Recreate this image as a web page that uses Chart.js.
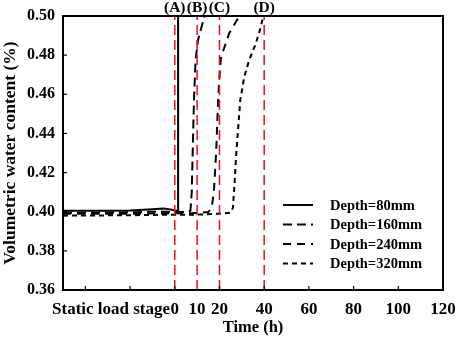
<!DOCTYPE html>
<html>
<head>
<meta charset="utf-8">
<script src="https://cdn.jsdelivr.net/npm/chart.js@4/dist/chart.umd.min.js"></script>
<style>
html,body{margin:0;padding:0;background:#fff;}
#wrap{width:457px;height:340px;position:relative;}
</style>
</head>
<body>
<div id="wrap"><canvas id="c"></canvas></div>
<script>
// ---- data ----
const seriesNames = ['Depth=80mm', 'Depth=160mm', 'Depth=240mm', 'Depth=320mm'];

const d80x  = [-50, -40, -30, -20, -10, -5, -2, 0, 1.5, 1.5];
const d80y  = [0.4005, 0.4005, 0.4005, 0.4006, 0.4012, 0.4016, 0.4012, 0.4006, 0.4005, 0.50];

const d160x = [-50, -30, -10, 0, 5, 7, 7.6, 8, 8.6, 9.3, 10.4, 13.3];
const d160y = [0.3995, 0.3995, 0.4, 0.4, 0.3998, 0.4005, 0.41, 0.43, 0.457, 0.4775, 0.4877, 0.50];

const d240x = [-50, -20, 0, 10, 15, 16.5, 17.5, 18.5, 19.4, 20, 20.7, 24.4, 28.9];
const d240y = [0.399, 0.399, 0.3992, 0.3993, 0.3998, 0.402, 0.41, 0.43, 0.457, 0.469, 0.479, 0.4913, 0.50];

const d320x = [-50, -20, 0, 10, 20, 25, 26, 26.8, 27.4, 29.3, 31.1, 33.3, 36.3, 38.5, 39.6];
const d320y = [0.398, 0.3982, 0.3985, 0.3985, 0.399, 0.3995, 0.402, 0.415, 0.428, 0.457, 0.469, 0.4775, 0.486, 0.4945, 0.50];

const eventTimes  = [0, 10, 20, 40];
const eventLabels = ['(A)', '(B)', '(C)', '(D)'];

const xLabelValues = [-28.5, 0, 10, 20, 40, 60, 80, 100, 120];
const xLabelTexts  = ['Static load stage', '0', '10', '20', '40', '60', '80', '100', '120'];
const xTickMarks   = [-40, -20, 0, 20, 40, 60, 80, 100];
const yTickValues  = [0.36, 0.38, 0.40, 0.42, 0.44, 0.46, 0.48, 0.50];

// ---- build ----
const FONT = '"Liberation Serif", "Times New Roman", serif';
const dashes = [[], [9, 5], [8, 6], [5, 4]];
const xs = [d80x, d160x, d240x, d320x];
const ys = [d80y, d160y, d240y, d320y];

const datasets = [];
eventTimes.forEach(t => {
  datasets.push({
    data: [{x: t, y: 0.36}, {x: t, y: 0.50}],
    borderColor: '#e8141c', borderWidth: 1.5, borderDash: [10, 5],
    pointRadius: 0, fill: false, tension: 0
  });
});
seriesNames.forEach((n, i) => {
  datasets.push({
    label: n,
    data: xs[i].map((x, k) => ({x: x, y: ys[i][k]})),
    borderColor: '#000', borderWidth: 2, borderDash: dashes[i],
    pointRadius: 0, fill: false, tension: 0
  });
});

const decor = {
  id: 'decor',
  afterDraw(chart) {
    const ctx = chart.ctx, a = chart.chartArea;
    const xs_ = chart.scales.x, ys_ = chart.scales.y;
    ctx.save();
    // frame
    ctx.strokeStyle = '#000'; ctx.lineWidth = 2; ctx.setLineDash([]);
    ctx.strokeRect(a.left, a.top, a.right - a.left, a.bottom - a.top);
    // inward ticks
    ctx.lineWidth = 1.2;
    xTickMarks.forEach(v => {
      const px = xs_.getPixelForValue(v);
      ctx.beginPath(); ctx.moveTo(px, a.bottom); ctx.lineTo(px, a.bottom - 4); ctx.stroke();
    });
    yTickValues.forEach(v => {
      const py = ys_.getPixelForValue(v);
      ctx.beginPath(); ctx.moveTo(a.left, py); ctx.lineTo(a.left + 4, py); ctx.stroke();
    });
    // event labels
    ctx.fillStyle = '#000';
    ctx.font = 'bold 15.5px ' + FONT;
    ctx.textAlign = 'center'; ctx.textBaseline = 'middle';
    eventTimes.forEach((t, i) => {
      ctx.fillText(eventLabels[i], xs_.getPixelForValue(t), 8);
    });
    // legend
    const rows = [205, 224.5, 244, 263.5];
    ctx.textAlign = 'left';
    ctx.font = 'bold 14.5px ' + FONT;
    seriesNames.forEach((n, i) => {
      ctx.beginPath();
      ctx.setLineDash(dashes[i]);
      ctx.lineWidth = 2;
      ctx.moveTo(283, rows[i]); ctx.lineTo(313, rows[i]); ctx.stroke();
      ctx.setLineDash([]);
      ctx.fillText(n, 330, rows[i] + 1);
    });
    ctx.restore();
  }
};

new Chart(document.getElementById('c'), {
  type: 'line',
  data: { datasets },
  options: {
    responsive: true, maintainAspectRatio: false, animation: false,
    layout: { padding: { top: 16, right: 14, left: 0, bottom: 0 } },
    plugins: { legend: { display: false }, tooltip: { enabled: false } },
    scales: {
      x: {
        type: 'linear', min: -50, max: 120,
        afterBuildTicks(s) { s.ticks = xLabelValues.map(v => ({value: v})); },
        afterFit(s) { s.height = 50; s.paddingLeft = 0; s.paddingRight = 0; },
        grid: { display: false, drawTicks: false },
        border: { display: false },
        ticks: {
          autoSkip: false, maxRotation: 0, padding: 9, color: '#000',
          font: { family: FONT, weight: 'bold', size: 17 },
          callback(v, i) { return xLabelTexts[i]; }
        },
        title: {
          display: true, text: 'Time (h)', color: '#000', padding: { top: 0, bottom: 2 },
          font: { family: FONT, weight: 'bold', size: 16.5 }
        }
      },
      y: {
        type: 'linear', min: 0.36, max: 0.50,
        afterBuildTicks(s) { s.ticks = yTickValues.map(v => ({value: v})); },
        afterFit(s) { s.width = 63; s.paddingTop = 0; s.paddingBottom = 0; },
        grid: { display: false, drawTicks: false },
        border: { display: false },
        ticks: {
          padding: 8, color: '#000',
          font: { family: FONT, weight: 'bold', size: 16 },
          callback(v) { return Number(v).toFixed(2); }
        },
        title: {
          display: true, text: 'Volumetric water content (%)', color: '#000',
          padding: { top: 0, bottom: 0 },
          font: { family: FONT, weight: 'bold', size: 17.5 }
        }
      }
    }
  },
  plugins: [decor]
});
</script>
</body>
</html>
